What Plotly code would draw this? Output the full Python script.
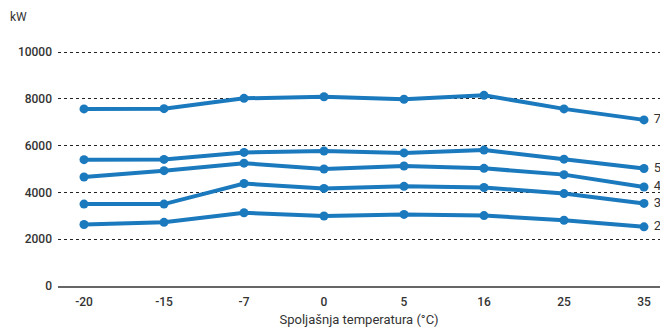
import plotly.graph_objects as go

temps = ["-20", "-15", "-7", "0", "5", "16", "25", "35"]

s7 = [7570, 7580, 8020, 8090, 7980, 8150, 7570, 7100]
s5 = [5400, 5410, 5710, 5770, 5690, 5810, 5420, 5020]
s4 = [4660, 4930, 5250, 5000, 5130, 5030, 4760, 4230]
s3 = [3500, 3500, 4380, 4170, 4260, 4210, 3950, 3530]
s2 = [2630, 2720, 3130, 2990, 3060, 3010, 2810, 2530]

series = {"7": s7, "5": s5, "4": s4, "3": s3, "2": s2}

blue = "#1b79bd"
txt = "#333333"

fig = go.Figure()
for name, vals in series.items():
    # label only the last point, to the right of the line end
    labels = [""] * (len(temps) - 1) + [" " + name]
    fig.add_trace(go.Scatter(
        x=temps, y=vals, mode="lines+markers+text", name=name,
        text=labels, textposition="middle right",
        textfont=dict(size=13, color=txt),
        line=dict(color=blue, width=4),
        marker=dict(color=blue, size=9),
        showlegend=False, cliponaxis=False,
    ))

fig.add_annotation(
    xref="paper", yref="paper", x=-0.083, y=1.05, text="kW",
    showarrow=False, xanchor="left", yanchor="bottom",
    font=dict(size=12, color=txt),
)

fig.update_layout(
    width=660, height=327,
    margin=dict(l=58, r=0, t=38, b=41),
    paper_bgcolor="white", plot_bgcolor="white",
    font=dict(family="Roboto, sans-serif", size=12, color=txt),
)
fig.update_xaxes(
    type="category", range=[-0.325, 7.2], automargin=False,
    showgrid=False, showline=True, linecolor="#666666", linewidth=2,
    ticks="", ticklabelstandoff=4,
    tickfont=dict(size=12, color=txt, weight=500),
    title=dict(text="Spoljašnja temperatura (°C)", standoff=13,
               font=dict(size=13, color=txt)),
)
fig.update_yaxes(
    range=[0, 10600], tickvals=[0, 2000, 4000, 6000, 8000, 10000],
    tickformat="d", showgrid=True, gridcolor="#222222", griddash="dot",
    gridwidth=1, zeroline=False, ticks="", ticklabelstandoff=5,
    tickfont=dict(size=12, color=txt, weight=500),
)

# drop the default body margin so the figure sits flush in the window
fig.write_html(
    "out.html",
    config={"displayModeBar": False},
    post_script="document.body.style.margin='0';document.body.style.overflow='hidden';",
)
